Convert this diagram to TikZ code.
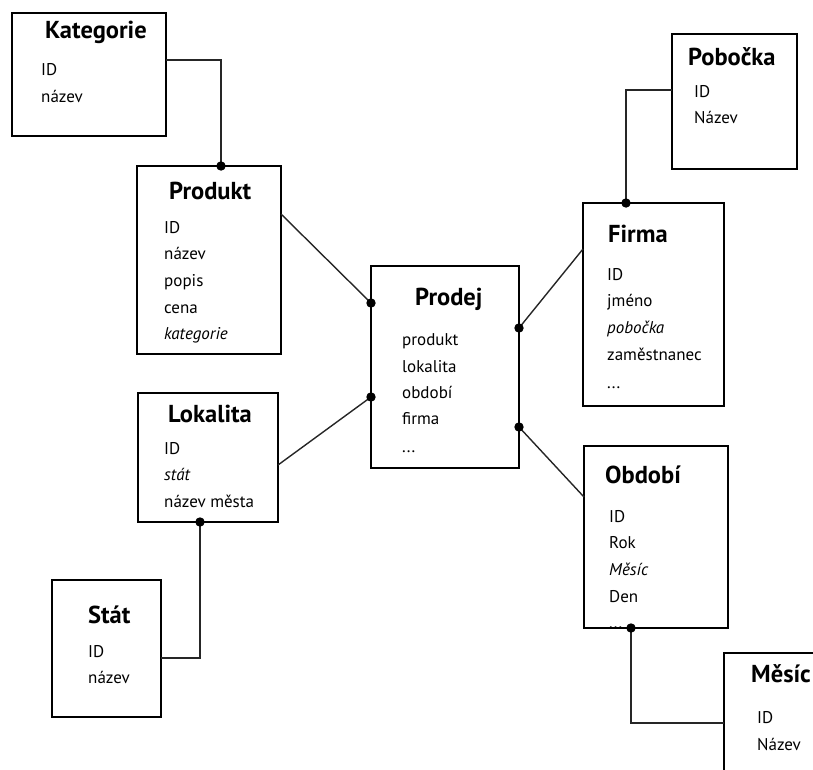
\documentclass[tikz,border=0pt]{standalone}
\usepackage{fontspec}
\setmainfont{PT Sans}
\begin{document}
\begin{tikzpicture}[x=1pt,y=-1pt,
  box/.style={draw=black, line width=1.7pt, inner sep=0pt, outer sep=0pt, anchor=north west, fill=none},
  conn/.style={draw=black!85, line width=1.4pt},
  ttl/.style={anchor=base west, inner sep=0pt, font=\fontsize{24.5}{28}\selectfont\bfseries},
  fld/.style={anchor=base west, inner sep=0pt, font=\fontsize{17}{20}\selectfont, text=black},
  dotc/.style={fill=black}]
\useasboundingbox (0,0) rectangle (813,769);
\clip (0,0) rectangle (813,769);
% boxes
\node[box, minimum width=154pt, minimum height=123pt] (kat) at (12,13) {};
\node[box, minimum width=144pt, minimum height=188pt] (prod) at (137,166) {};
\node[box, minimum width=148pt, minimum height=202pt] (prodej) at (371,266) {};
\node[box, minimum width=140pt, minimum height=129pt] (lok) at (138,393) {};
\node[box, minimum width=109pt, minimum height=137pt] (stat) at (52,580) {};
\node[box, minimum width=125pt, minimum height=135pt] (pob) at (672,34) {};
\node[box, minimum width=141pt, minimum height=203pt] (firma) at (583,203) {};
\node[box, minimum width=144pt, minimum height=182pt] (obd) at (584,446) {};
\node[box, minimum width=120pt, minimum height=140pt] (mes) at (724,653) {};
% texts
\node[ttl] (katT) at (45,38) {Kategorie};
\node[fld] (kat1) at (41,75) {ID};
\node[fld] (kat2) at (41,102) {název};
\node[ttl] (prodT) at (169,199) {Produkt};
\node[fld] (prod1) at (164,233) {ID};
\node[fld] (prod2) at (164,259) {název};
\node[fld] (prod3) at (164,286) {popis};
\node[fld] (prod4) at (164,313) {cena};
\node[fld] (prod5) at (164,339) {\itshape kategorie};
\node[ttl] (prodejT) at (415,305) {Prodej};
\node[fld] (prodej1) at (402,345) {produkt};
\node[fld] (prodej2) at (402,372) {lokalita};
\node[fld] (prodej3) at (402,398) {období};
\node[fld] (prodej4) at (402,424) {firma};
\node[fld] (prodej5) at (402,452) {...};
\node[ttl] (lokT) at (168,422) {Lokalita};
\node[fld] (lok1) at (164,454) {ID};
\node[fld] (lok2) at (164,480) {\itshape stát};
\node[fld] (lok3) at (164,507) {název města};
\node[ttl] (statT) at (88,623) {Stát};
\node[fld] (stat1) at (88,657) {ID};
\node[fld] (stat2) at (88,683) {název};
\node[ttl] (pobT) at (688,65) {Pobočka};
\node[fld] (pob1) at (694,97) {ID};
\node[fld] (pob2) at (694,123) {Název};
\node[ttl] (firmaT) at (608,242) {Firma};
\node[fld] (firma1) at (607,280) {ID};
\node[fld] (firma2) at (607,306) {jméno};
\node[fld] (firma3) at (607,333) {\itshape pobočka};
\node[fld] (firma4) at (607,360) {zaměstnanec};
\node[fld] (firma5) at (607,388) {...};
\node[ttl] (obdT) at (605,483) {Období};
\node[fld] (obd1) at (609,522) {ID};
\node[fld] (obd2) at (609,548) {Rok};
\node[fld] (obd3) at (609,575) {\itshape Měsíc};
\node[fld] (obd4) at (609,602) {Den};
\node[fld] (obd5) at (609,628) {...};
\node[ttl] (mesT) at (751,682) {Měsíc};
\node[fld] (mes1) at (757,723) {ID};
\node[fld] (mes2) at (757,750) {Název};
% connector end points
\coordinate (d1) at ([xshift=84pt]prod.north west);
\coordinate (d2) at ([yshift=-37pt]prodej.north west);
\coordinate (d3) at ([yshift=-131pt]prodej.north west);
\coordinate (d4) at ([yshift=-62pt]prodej.north east);
\coordinate (d5) at ([yshift=-161pt]prodej.north east);
\coordinate (d6) at ([xshift=43pt]firma.north west);
\coordinate (d7) at ([xshift=62pt]lok.south west);
\coordinate (d8) at ([xshift=47pt]obd.south west);
% connectors
\draw[conn] ([yshift=-47pt]kat.north east) -| (d1);
\draw[conn] ([yshift=-48pt]prod.north east) -- (d2);
\draw[conn] ([yshift=-72pt]lok.north east) -- (d3);
\draw[conn] (d4) -- ([yshift=-46pt]firma.north west);
\draw[conn] (d5) -- ([yshift=-51pt]obd.north west);
\draw[conn] ([yshift=-56pt]pob.north west) -| (d6);
\draw[conn] (d7) |- ([yshift=-78pt]stat.north east);
\draw[conn] (d8) |- ([yshift=-70pt]mes.north west);
\foreach \d in {d1,d2,d3,d4,d5,d6,d7,d8} \fill[dotc] (\d) circle (4.7pt);
\end{tikzpicture}
\end{document}
